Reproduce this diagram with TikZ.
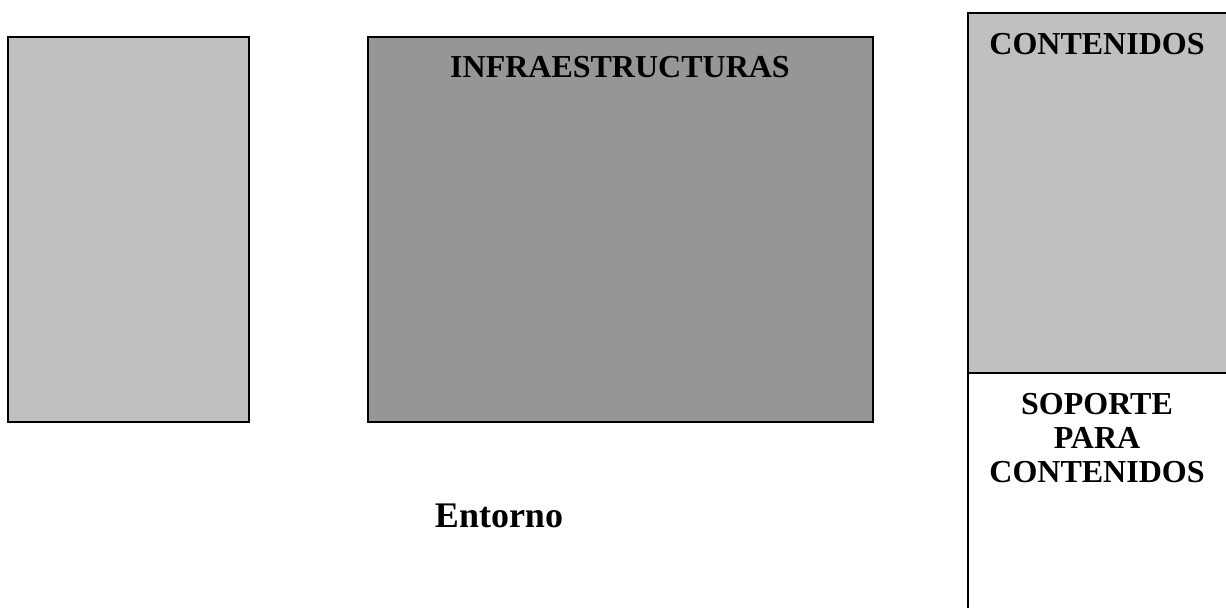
\documentclass[tikz,border=0pt]{standalone}
\usepackage{fontspec}
\setmainfont{Liberation Serif}
\definecolor{grisclaro}{RGB}{192,192,192}
\definecolor{grisoscuro}{RGB}{150,150,150}
\begin{document}
\begin{tikzpicture}[x=0.75pt, y=-0.75pt,
  caja/.style={draw=black, line width=1.1pt},
  rotulo/.style={inner sep=0pt, font=\bfseries\fontsize{24}{25.5}\selectfont},
  titulo/.style={inner sep=0pt, font=\bfseries\fontsize{27}{30}\selectfont}]
\useasboundingbox (0,0) rectangle (1226,607);
\clip (0,0) rectangle (1226,607);
% cajas
\draw[caja, fill=grisclaro] (8,37) rectangle (249,422);
\draw[caja, fill=grisoscuro] (368,37) rectangle (873,422);
\draw[caja, fill=grisclaro] (968,13) rectangle (1232,373);
\draw[caja] (968,373) rectangle (1232,614);
% textos
\node[rotulo, anchor=base] (infra) at (620,77) {INFRAESTRUCTURAS};
\node[rotulo, anchor=base] (cont) at (1097,54) {CONTENIDOS};
\node[rotulo, anchor=north, align=center] (soporte) at (1097,393) {SOPORTE\\PARA\\CONTENIDOS};
\node[titulo, anchor=base] (entorno) at (499,527) {Entorno};
\end{tikzpicture}
\end{document}
